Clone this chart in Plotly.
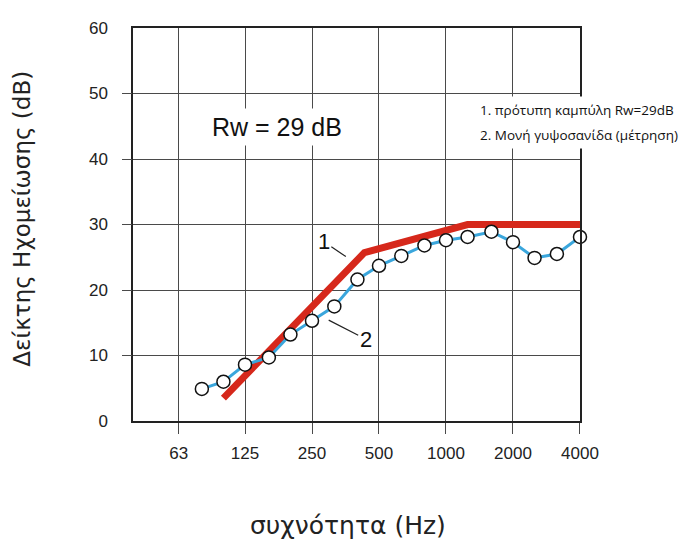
import plotly.graph_objects as go

# Measured curve (1/3 octave bands)
freq = [80, 100, 125, 160, 200, 250, 315, 400, 500, 630, 800, 1000, 1250, 1600, 2000, 2500, 3150, 4000]
measured = [4.9, 6.0, 8.6, 9.7, 13.2, 15.3, 17.5, 21.6, 23.7, 25.2, 26.8, 27.6, 28.1, 28.9, 27.3, 24.9, 25.5, 28.1]

# Reference (shifted) curve
ref_freq = [100, 430, 1250, 4000]
ref_vals = [3.5, 25.7, 30.0, 30.0]

x_ticks = [63, 125, 250, 500, 1000, 2000, 4000]
x_ticktext = ["63", "125", "250", "500", "1000", "2000", "4000"]
y_ticks = [0, 10, 20, 30, 40, 50, 60]
y_minor_ticks = [10, 20, 30, 40, 50]

RED = "#d6281b"
BLUE = "#3aa6dc"
GRID = "#4a4a4a"
TICKFONT = dict(family="Liberation Sans, Arial, sans-serif", size=17, color="#222")
TXTFONT = "DejaVu Sans, Verdana, sans-serif"
LEGFONT = dict(family="Open Sans, Roboto, sans-serif", size=13.5, color="#111")

fig = go.Figure()

fig.add_trace(go.Scatter(
    x=ref_freq, y=ref_vals, mode="lines",
    line=dict(color=RED, width=7), cliponaxis=False, hoverinfo="skip",
    showlegend=False))

fig.add_trace(go.Scatter(
    x=freq, y=measured, mode="lines+markers",
    line=dict(color=BLUE, width=3),
    marker=dict(size=13, color="white", line=dict(color="#111", width=1.5)),
    cliponaxis=False, showlegend=False))

# invisible trace to activate the tick-only overlay axis
fig.add_trace(go.Scatter(x=[freq[0]], y=[measured[0]], yaxis="y2", mode="markers",
                         marker=dict(opacity=0), showlegend=False, hoverinfo="skip"))

# the page body has an 8px margin, so the figure is 8px smaller than the window
fig.update_layout(
    width=685, height=534,
    margin=dict(l=125, r=113, t=11, b=121),
    paper_bgcolor="white", plot_bgcolor="white",
    xaxis=dict(
        type="log", range=[1.5937, 3.6021],
        tickvals=x_ticks, ticktext=x_ticktext,
        ticks="outside", ticklen=11, tickcolor=GRID, tickwidth=1,
        showgrid=True, gridcolor=GRID, gridwidth=1,
        showline=True, linecolor="#222", linewidth=1.5, mirror=True,
        tickfont=TICKFONT, ticklabelstandoff=5, zeroline=False),
    yaxis=dict(
        range=[0, 60], tickvals=y_ticks,
        ticks="", showgrid=True, gridcolor=GRID, gridwidth=1,
        showline=True, linecolor="#222", linewidth=1.5, mirror=True,
        tickfont=TICKFONT, ticklabelstandoff=20, zeroline=False),
    yaxis2=dict(
        range=[0, 60], overlaying="y", side="left", tickvals=y_minor_ticks,
        ticks="outside", ticklen=10, tickcolor=GRID, tickwidth=1,
        showticklabels=False, showgrid=False, zeroline=False, showline=False),
)

annotations = [
    dict(text="Rw = 29 dB", xref="paper", yref="y", x=(277 - 133) / 447, y=44.9,
         xanchor="center", yanchor="middle",
         showarrow=False, font=dict(family="Liberation Sans, Arial, sans-serif", size=25, color="#111"),
         bgcolor="white", borderpad=4),
    dict(text="1. πρότυπη καμπύλη Rw=29dB", xref="paper", yref="paper",
         x=(475 - 133) / 447, y=(421 - 103) / 402, xanchor="left", yanchor="middle",
         showarrow=False, font=LEGFONT, bgcolor="white", borderpad=4),
    dict(text="2. Μονή γυψοσανίδα (μέτρηση)", xref="paper", yref="paper",
         x=(475 - 133) / 447, y=(421 - 128) / 402, xanchor="left", yanchor="middle",
         showarrow=False, font=LEGFONT, bgcolor="white", borderpad=4),
    dict(text="1", xref="x", yref="y", x=2.55, y=25.1, axref="pixel", ayref="pixel",
         ax=-22, ay=-15, showarrow=True, arrowhead=0, arrowwidth=1.2, arrowcolor="#222",
         font=dict(family="Liberation Sans, Arial, sans-serif", size=22, color="#111")),
    dict(text="2", xref="x", yref="y", x=2.473, y=15.4, axref="pixel", ayref="pixel",
         ax=37, ay=19, showarrow=True, arrowhead=0, arrowwidth=1.2, arrowcolor="#222",
         font=dict(family="Liberation Sans, Arial, sans-serif", size=22, color="#111")),
    dict(text="συχνότητα (Hz)", xref="paper", yref="paper", x=(348 - 133) / 447,
         y=(421 - 528) / 402,
         xanchor="center", yanchor="middle", showarrow=False,
         font=dict(family=TXTFONT, size=25, color="#222")),
    dict(text="Δείκτης Ηχομείωσης (dB)", xref="paper", yref="paper", x=(22 - 133) / 447,
         y=(421 - 214) / 402, xanchor="center", yanchor="middle", textangle=-90,
         showarrow=False, font=dict(family=TXTFONT, size=23, color="#222")),
]
fig.update_layout(annotations=annotations)

fig.write_html("out.html")
